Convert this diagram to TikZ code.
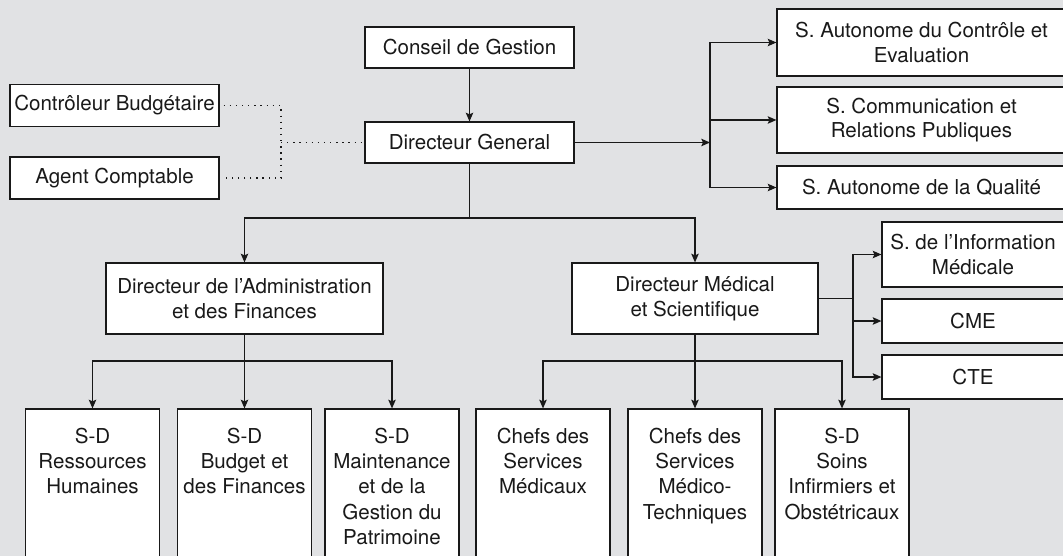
\documentclass[tikz,border=0pt]{standalone}
\usepackage{fontspec}
\setmainfont{TeX Gyre Heros}
\usetikzlibrary{arrows.meta}
\definecolor{bg}{RGB}{225,226,228}
\definecolor{ink}{RGB}{25,25,25}
\begin{document}
\begin{tikzpicture}[x=0.75pt,y=-0.75pt,
  box/.style 2 args={draw=ink, line width=0.9pt, fill=white, minimum width=#1*0.75pt, minimum height=#2*0.75pt, inner sep=0pt, align=center, text=ink, font=\fontsize{15.4pt}{18.4pt}\selectfont},
  txt/.style={inner sep=0pt, align=center, text=ink, font=\fontsize{15.4pt}{19pt}\selectfont, anchor=north},
  conn/.style={draw=ink, line width=0.9pt},
  arr/.style={conn, -{Stealth[length=6.5pt,width=5.6pt,inset=1.2pt]}},
  dotline/.style={draw=ink, line width=1.1pt, dash pattern=on 1pt off 3.6pt}]
\useasboundingbox (0,0) rectangle (1063,556);
\fill[bg] (0,0) rectangle (1063,556);
\clip (0,0) rectangle (1063,556);

% top level
\node[box={209}{41}] (cons) at (469.5,47.5) {Conseil de Gestion};
\node[box={209}{41}] (dg) at (469.5,142.5) {Directeur General};
\node[box={209}{42}] (cb) at (114.5,105.5) {Contrôleur Budgétaire};
\node[box={209}{42}] (ac) at (114.5,178) {Agent Comptable};

% right services
\node[box={289}{67}] (sace) at (921.5,42.5) {S. Autonome du Contrôle et\\Evaluation};
\node[box={289}{66}] (scrp) at (921.5,120) {S. Communication et\\Relations Publiques};
\node[box={289}{43}] (saq) at (921.5,187.5) {S. Autonome de la Qualité};

% directors
\node[box={277}{71}] (daf) at (244.5,298.5) {Directeur de l’Administration\\et des Finances};
\node[box={246}{71}] (dms) at (695,298.5) {Directeur Médical\\et Scientifique};

% medical side services
\node[box={182}{65}] (sim) at (973,254.5) {S. de l’Information\\Médicale};
\node[box={182}{44}] (cme) at (973,321) {CME};
\node[box={182}{44}] (cte) at (973,377) {CTE};

% bottom boxes
\node[box={134}{170}] (b1) at (92.5,494) {};
\node[box={134}{170}] (b2) at (244.5,494) {};
\node[box={134}{170}] (b3) at (392,494) {};
\node[box={134}{170}] (b4) at (543,494) {};
\node[box={134}{170}] (b5) at (695,494) {};
\node[box={134}{170}] (b6) at (842,494) {};
\node[txt] (b1t) at ([yshift=-14.25pt]b1.north) {S-D\\Ressources\\Humaines};
\node[txt] (b2t) at ([yshift=-14.25pt]b2.north) {S-D\\Budget et\\des Finances};
\node[txt] (b3t) at ([yshift=-14.25pt]b3.north) {S-D\\Maintenance\\et de la\\Gestion du\\Patrimoine};
\node[txt] (b4t) at ([yshift=-14.25pt]b4.north) {Chefs des\\Services\\Médicaux};
\node[txt] (b5t) at ([yshift=-14.25pt]b5.north) {Chefs des\\Services\\Médico-\\Techniques};
\node[txt] (b6t) at ([yshift=-14.25pt]b6.north) {S-D\\Soins\\Infirmiers et\\Obstétricaux};

% coordinates
\coordinate (dj) at (281,142.5);
\coordinate (t1) at (469.5,218);
\coordinate (rb) at (710,142.5);
\coordinate (mb) at (853,298.5);
\coordinate (ab) at (244.5,361);
\coordinate (mb2) at (695,361);

% connectors
\draw[arr] (cons) -- (dg);
\draw[dotline] ([xshift=3pt]cb.east) -| (dj) |- ([xshift=3pt]ac.east);
\draw[dotline] (dj) -- (dg.west);

\draw[arr] (dg.east) -- (rb);
\draw[arr] (rb) |- (sace.west);
\draw[arr] (rb) |- (scrp.west);
\draw[arr] (rb) |- (saq.west);

\draw[conn] (dg.south) -- (t1);
\draw[arr] (t1) -| (daf.north);
\draw[arr] (t1) -| (dms.north);

\draw[conn] (dms.east) -- (mb);
\draw[arr] (mb) |- (sim.west);
\draw[arr] (mb) |- (cme.west);
\draw[arr] (mb) |- (cte.west);

\draw[conn] (daf.south) -- (ab);
\draw[arr] (ab) -| (b1.north);
\draw[arr] (ab) -- (b2.north);
\draw[arr] (ab) -| (b3.north);

\draw[conn] (dms.south) -- (mb2);
\draw[arr] (mb2) -| (b4.north);
\draw[arr] (mb2) -- (b5.north);
\draw[arr] (mb2) -| (b6.north);
\end{tikzpicture}
\end{document}
